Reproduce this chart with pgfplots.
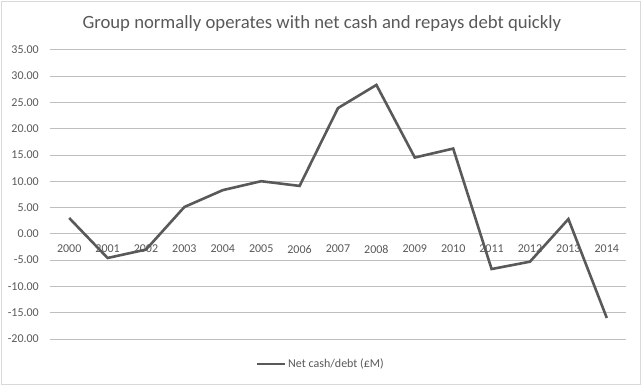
\documentclass[border=0pt]{standalone}
\usepackage{pgfplots}
\pgfplotsset{compat=1.18}
\usepackage{fontspec}
\setmainfont{Carlito}
\definecolor{txt}{HTML}{595959}
\definecolor{grid}{HTML}{D9D9D9}
\begin{document}
\begin{tikzpicture}
\useasboundingbox (0,0) rectangle (641bp,385bp);
\draw[grid, line width=0.75bp] (1bp,1bp) rectangle (640bp,384bp);
\begin{axis}[
  at={(50bp,46bp)}, anchor=south west,
  scale only axis, width=576bp, height=289.3bp,
  xmin=1999.5, xmax=2014.5, ymin=-20, ymax=35,
  ytick={-20,-15,...,35},
  xtick={2000,...,2014},
  axis x line=middle, axis y line=left,
  axis line style={draw=none},
  major tick length=0pt, tick style={draw=none},
  ymajorgrids, xmajorgrids=false, grid style={grid, line width=0.75bp},
  /pgf/number format/assume math mode=true,
  yticklabel style={/pgf/number format/fixed, /pgf/number format/fixed zerofill, /pgf/number format/precision=2},
  xticklabel style={/pgf/number format/1000 sep={}},
  ticklabel style={font=\fontsize{12bp}{14bp}\selectfont, text=txt},
  yticklabel style={anchor=east, inner sep=0pt, xshift=-11bp},
  xticklabel style={anchor=north, inner sep=0pt, yshift=-11bp},
  title={Group normally operates with net cash and repays debt quickly},
  title style={at={(rel axis cs:0.472,1)}, anchor=center, yshift=20.7bp, font=\fontsize{18.7bp}{22bp}\selectfont, text=txt},
  legend style={at={(rel axis cs:0.47,-0.0864)}, anchor=center, draw=none, fill=none, font=\fontsize{12bp}{14bp}\selectfont, text=txt},
  legend image code/.code={\draw[#1, line width=2.6bp] (0bp,0bp) -- (28bp,0bp);},
]
\addplot[color=txt, line width=2.6bp, mark=none] coordinates {
(2000,3.0) (2001,-4.6) (2002,-3.0) (2003,5.1) (2004,8.3) (2005,10.0) (2006,9.1)
(2007,23.9) (2008,28.3) (2009,14.5) (2010,16.2) (2011,-6.7) (2012,-5.3) (2013,2.8) (2014,-16.0)
};
\addlegendentry{Net cash/debt (£M)}
\end{axis}
\end{tikzpicture}
\end{document}
